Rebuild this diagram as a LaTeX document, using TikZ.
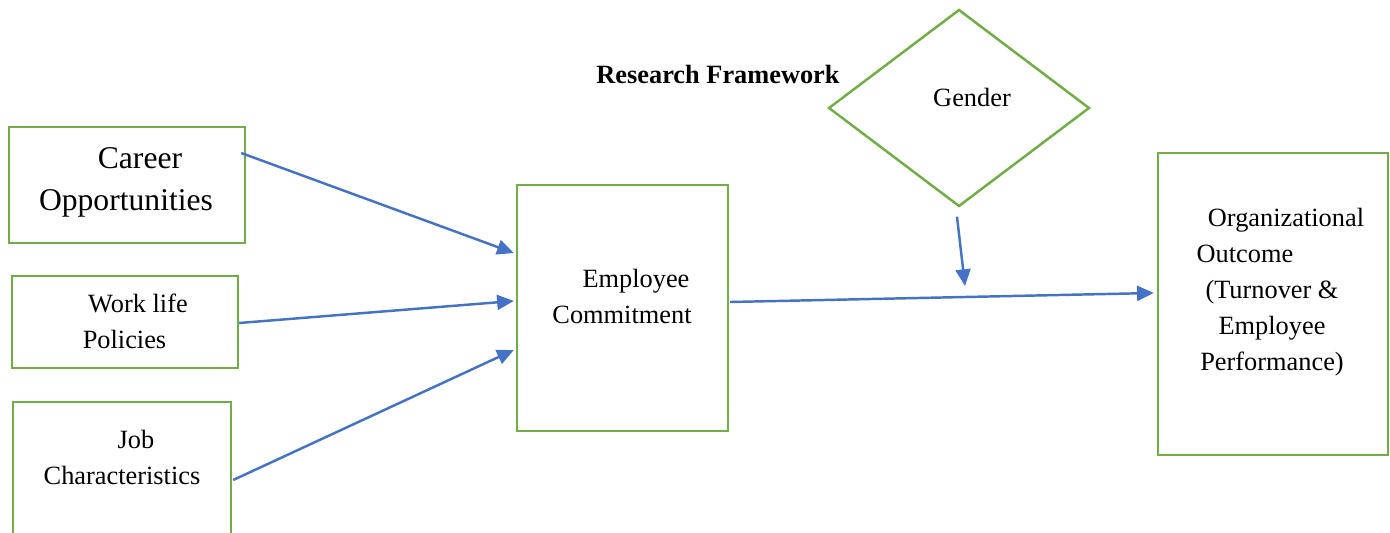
\documentclass[tikz,border=0pt]{standalone}
\usepackage{fontspec}
\setmainfont{Liberation Serif}
\usepackage{xcolor}
\usetikzlibrary{shapes.geometric,arrows.meta}
\definecolor{boxgreen}{RGB}{112,173,71}
\definecolor{linkblue}{RGB}{68,114,196}
\tikzset{
  factor/.style={draw=boxgreen,line width=1.4pt,inner sep=0pt},
  link/.style={draw=linkblue,line width=1.4pt,-{Triangle[length=9.5pt,width=8.5pt]}},
  txt/.style={align=center,inner sep=0pt,font=\fontsize{15}{20.5}\selectfont}
}

\begin{document}
\begin{tikzpicture}[x=0.02cm,y=-0.02cm]
\clip (0,0) rectangle (1390,533);
% boxes
\node[factor,minimum width=4.72cm,minimum height=2.32cm] (career) at (127,185) {};
\node[factor,minimum width=4.52cm,minimum height=1.84cm] (worklife) at (125,322) {};
\node[factor,minimum width=4.36cm,minimum height=3.16cm] (job) at (122,481) {};
\node[factor,minimum width=4.22cm,minimum height=4.92cm] (commit) at (622.5,308) {};
\node[factor,minimum width=4.60cm,minimum height=6.04cm] (outcome) at (1273,304) {};
\node[factor,diamond,aspect=1.32,minimum width=5.22cm,minimum height=3.94cm] (gender) at (959,108) {};
% texts
\node[txt,font=\fontsize{18}{24}\selectfont] (careertxt) at ([shift={(-1,-3)}]career.center) {\hspace*{0.56cm}Career\\Opportunities};
\node[txt] (worklifetxt) at ([shift={(-0.5,-1)}]worklife.center) {\hspace*{0.54cm}Work life\\Policies};
\node[txt,font=\fontsize{15}{20}\selectfont] (jobtxt) at ([shift={(0,-23.5)}]job.center) {\hspace*{0.56cm}Job\\Characteristics};
\node[txt,font=\fontsize{15}{20}\selectfont] (committxt) at ([shift={(-0.5,-11.5)}]commit.center) {\hspace*{0.56cm}Employee\\Commitment};
\node[txt] (outcometxt) at ([shift={(-1,-11.5)}]outcome.center) {\hspace*{0.56cm}Organizational\\Outcome\hspace*{1.08cm}\null\\(Turnover \&\\Employee\\Performance)};
\node[txt] (gendertxt) at ([shift={(13,-11)}]gender.center) {Gender};
\node[txt,font=\fontsize{15}{18}\selectfont\bfseries] (title) at (718,74) {Research Framework};
% arrows
\coordinate (moderate) at (965,286);
\draw[link] ([shift={(-5,-32)}]career.east) -- ([shift={(-2,-55)}]commit.west);
\draw[link] ([shift={(0,1)}]worklife.east) -- ([shift={(-2,-7)}]commit.west);
\draw[link] ([shift={(1,-1)}]job.east) -- ([shift={(-2,42)}]commit.west);
\draw[link] ([shift={(1,-6)}]commit.east) -- ([shift={(-3,-11)}]outcome.west);
\draw[link] ([shift={(-2,9)}]gender.south) -- (moderate);
\end{tikzpicture}
\end{document}
